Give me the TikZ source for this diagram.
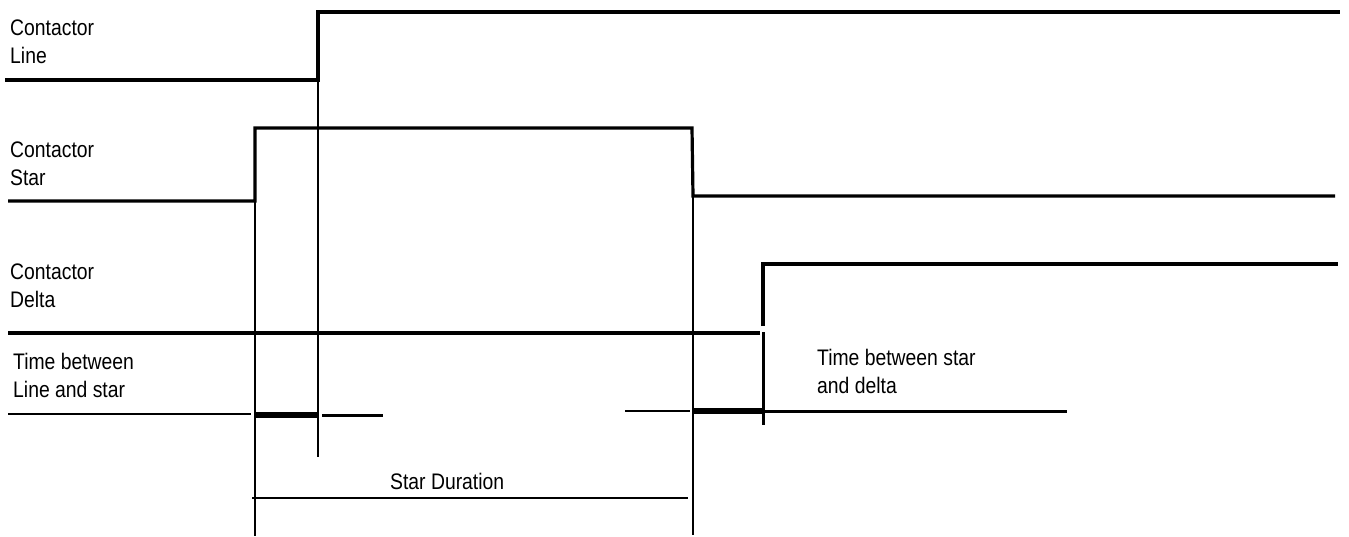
\documentclass[tikz,border=0pt]{standalone}
\usepackage{fontspec}
\setmainfont[FakeStretch=0.86]{Liberation Sans}
\begin{document}
\begin{tikzpicture}[x=1pt,y=-1pt,
  sig/.style={line width=3.2pt},
  guide/.style={line width=1.2pt},
  bar/.style={line width=6pt},
  mid/.style={line width=3pt},
  lbl/.style={anchor=north west,inner sep=0pt,align=left,font=\fontsize{22.5}{27.5}\selectfont}]
\useasboundingbox (0,0) rectangle (1349,536);
% labels
\node[lbl] (lline) at (10,20) {Contactor\\Line};
\node[lbl] (lstar) at (10,142) {Contactor\\Star};
\node[lbl] (ldelta) at (10,264) {Contactor\\Delta};
\node[lbl] (ltls) at (13,353) {Time between\\Line and star};
\node[lbl] (ltsd) at (817,349) {Time between star\\and delta};
\node[lbl] (ldur) at (390,473) {Star Duration};
% coordinates
\coordinate (L0) at (5,80);
\coordinate (L1) at (318,80);
\coordinate (L2) at (318,12);
\coordinate (L3) at (1340,12);
\coordinate (S0) at (8,201);
\coordinate (S1) at (255,201);
\coordinate (S2) at (255,128);
\coordinate (S3) at (692,128);
\coordinate (S4) at (693,196);
\coordinate (S5) at (1335,196);
\coordinate (D0) at (8,333);
\coordinate (D1) at (760,333);
\coordinate (D2) at (763,326);
\coordinate (D3) at (763,264);
\coordinate (D4) at (1338,264);
% signals
\draw[sig,line join=miter] (L0) -- (L1) -- (L2) -- (L3);
\draw[sig,line join=miter] (S0) -- (S1) -- (S2) -- (S3) -- (S4) -- (S5);
\draw[sig] (D0) -- (D1);
\draw[sig,line join=miter] (D2) -- (D3) -- (D4);
% guides
\coordinate (G1b) at (318,457);
\draw[guide] (L1) -- (G1b);
\coordinate (G2b) at (255,536);
\draw[guide] (S1) -- (G2b);
\coordinate (G3b) at (693,535);
\draw[guide] (S4) -- (G3b);
\coordinate (G4a) at (763,332);
\coordinate (G4b) at (763,425);
\draw[mid] (G4a) -- (G4b);
% time between line and star
\coordinate (T0) at (8,414);
\coordinate (T1) at (251,414);
\coordinate (T2) at (256,415);
\coordinate (T3) at (318,415);
\coordinate (T4) at (322,415);
\coordinate (T5) at (383,415);
\draw[line width=2pt] (T0) -- (T1);
\draw[bar] (T2) -- (T3);
\draw[mid] (T4) -- (T5);
% time between star and delta
\coordinate (U0) at (625,411);
\coordinate (U1) at (690,411);
\coordinate (U2) at (693,411);
\coordinate (U3) at (765,411);
\coordinate (U4) at (1067,411);
\draw[guide] (U0) -- (U1);
\draw[bar] (U2) -- (U3);
\draw[mid] (U3) -- (U4);
% star duration
\coordinate (R0) at (252,498);
\coordinate (R1) at (688,498);
\draw[line width=2pt] (R0) -- (R1);
\end{tikzpicture}
\end{document}
